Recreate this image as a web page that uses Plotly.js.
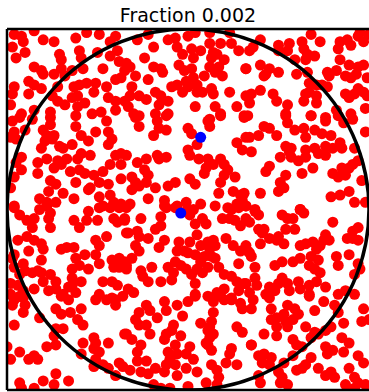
<!DOCTYPE html>
<html>
<head>
<meta charset="utf-8">
<script src="https://cdn.plot.ly/plotly-3.0.1.min.js"></script>
<style>html,body{margin:0;padding:0;background:#fff;}#chart{width:369px;height:392px;}</style>
</head>
<body>
<div id="chart"></div>
<script>
// Title
const titleText = "Fraction 0.002";

// Red points (inside and outside the unit circle), read region by region
const redTopLeft = [[-0.96,0.97],[-0.92,0.96],[-0.97,0.90],[-0.91,0.93],[-0.85,0.99],[-0.80,0.94],[-0.74,0.93],[-0.62,0.95],[-0.56,0.98],[-0.49,0.97],[-0.43,0.93],[-0.40,0.96],[-0.60,0.88],[-0.59,0.84],[-0.50,0.87],[-0.90,0.87],[-0.95,0.84],[-0.71,0.86],[-0.70,0.83],[-0.43,0.85],[-0.39,0.88],[-0.85,0.79],[-0.81,0.77],[-0.80,0.75],[-0.70,0.78],[-0.74,0.75],[-0.68,0.74],[-0.64,0.77],[-0.58,0.78],[-0.47,0.78],[-0.38,0.82],[-0.35,0.77],[-0.88,0.71],[-0.85,0.69],[-0.81,0.67],[-0.96,0.68],[-0.97,0.64],[-0.72,0.68],[-0.63,0.68],[-0.60,0.69],[-0.56,0.70],[-0.51,0.70],[-0.45,0.68],[-0.40,0.72],[-0.37,0.73],[-0.88,0.64],[-0.75,0.63],[-0.72,0.60],[-0.68,0.58],[-0.64,0.62],[-0.61,0.63],[-0.52,0.65],[-0.44,0.62],[-0.40,0.60],[-0.35,0.60],[-0.98,0.58],[-0.85,0.55],[-0.76,0.54],[-0.57,0.59],[-0.61,0.57],[-0.92,0.53],[-0.53,0.53],[-0.48,0.54],[-0.40,0.55]];
const redTopMid = [[-0.28,0.94],[-0.22,0.97],[-0.11,0.94],[-0.07,0.95],[-0.06,0.90],[0.00,0.96],[0.04,0.98],[0.12,0.98],[0.12,0.92],[0.18,0.92],[0.23,0.98],[0.24,0.92],[0.28,0.88],[0.34,0.88],[-0.19,0.90],[0.02,0.89],[0.07,0.88],[0.14,0.87],[-0.24,0.84],[-0.03,0.86],[0.03,0.84],[0.13,0.84],[0.20,0.83],[0.16,0.86],[-0.34,0.81],[-0.32,0.79],[-0.19,0.79],[-0.15,0.78],[-0.05,0.80],[-0.02,0.77],[0.02,0.78],[0.12,0.79],[0.17,0.79],[0.15,0.76],[0.19,0.74],[0.32,0.78],[-0.29,0.74],[-0.22,0.72],[-0.14,0.76],[0.03,0.73],[-0.01,0.71],[0.09,0.74],[-0.31,0.68],[-0.09,0.68],[-0.06,0.69],[0.00,0.68],[0.05,0.69],[0.05,0.65],[0.08,0.65],[0.13,0.67],[0.14,0.64],[0.23,0.65],[0.32,0.63],[-0.32,0.63],[-0.27,0.63],[-0.23,0.61],[-0.18,0.65],[-0.15,0.63],[-0.11,0.60],[-0.16,0.58],[-0.33,0.57],[-0.03,0.65],[0.04,0.57],[0.15,0.57],[0.18,0.53],[0.27,0.57],[0.34,0.59],[-0.30,0.53],[-0.27,0.52],[-0.18,0.53],[-0.11,0.53],[0.12,0.50],[0.31,0.52]];
const redTopRight = [[0.36,0.90],[0.40,0.94],[0.50,0.91],[0.50,0.88],[0.56,0.92],[0.55,0.88],[0.63,0.93],[0.64,0.89],[0.68,0.97],[0.73,0.93],[0.66,0.86],[0.70,0.85],[0.65,0.83],[0.84,0.93],[0.83,0.89],[0.88,0.94],[0.90,0.91],[0.94,0.96],[0.97,0.93],[0.95,0.98],[1.00,0.97],[0.40,0.80],[0.45,0.78],[0.43,0.75],[0.50,0.76],[0.42,0.74],[0.32,0.78],[0.59,0.83],[0.60,0.75],[0.66,0.76],[0.77,0.76],[0.78,0.74],[0.82,0.77],[0.84,0.83],[0.89,0.80],[0.94,0.79],[0.97,0.80],[0.99,0.73],[0.87,0.74],[0.90,0.73],[0.93,0.75],[0.40,0.66],[0.35,0.64],[0.47,0.64],[0.49,0.60],[0.55,0.58],[0.67,0.70],[0.71,0.69],[0.74,0.69],[0.67,0.65],[0.65,0.64],[0.71,0.63],[0.71,0.59],[0.77,0.68],[0.87,0.64],[0.89,0.62],[0.94,0.67],[0.92,0.64],[0.97,0.65],[0.99,0.63],[0.64,0.60],[0.54,0.53],[0.68,0.52],[0.76,0.51],[0.82,0.55],[0.90,0.53],[0.98,0.56],[0.33,0.52]];
const redUpperLeft = [[-0.97,0.49],[-0.93,0.51],[-0.86,0.50],[-0.76,0.51],[-0.76,0.47],[-0.96,0.43],[-0.90,0.44],[-0.98,0.40],[-0.95,0.39],[-0.80,0.44],[-0.78,0.41],[-0.74,0.41],[-0.79,0.38],[-0.75,0.39],[-0.62,0.52],[-0.62,0.46],[-0.59,0.41],[-0.55,0.38],[-0.51,0.43],[-0.45,0.49],[-0.44,0.43],[-0.42,0.39],[-0.44,0.36],[-0.81,0.34],[-0.71,0.35],[-0.69,0.34],[-0.64,0.36],[-0.59,0.31],[-0.92,0.29],[-0.83,0.26],[-0.78,0.28],[-0.72,0.27],[-0.67,0.28],[-0.61,0.28],[-0.54,0.30],[-0.40,0.30],[-0.37,0.31],[-0.95,0.26],[-0.43,0.25],[-0.92,0.22],[-0.83,0.20],[-0.74,0.23],[-0.70,0.25],[-0.65,0.21],[-0.60,0.22],[-0.57,0.20],[-0.52,0.19],[-0.47,0.21],[-0.37,0.25],[-0.96,0.18],[-0.76,0.16],[-0.73,0.14],[-0.62,0.15],[-0.54,0.12],[-0.49,0.15],[-0.44,0.14],[-0.37,0.17],[-0.98,0.12],[-0.77,0.10],[-0.69,0.09],[-0.63,0.06],[-0.55,0.11],[-0.49,0.07],[-0.43,0.08],[-0.41,0.04],[-0.82,0.06],[-0.78,0.04],[-0.73,0.04],[-0.96,0.02],[-0.47,0.02],[-0.37,0.03]];
const redUpperMid = [[-0.29,0.51],[-0.27,0.46],[-0.17,0.49],[-0.16,0.45],[-0.12,0.52],[-0.12,0.44],[0.00,0.45],[0.02,0.42],[0.11,0.49],[0.12,0.46],[0.18,0.52],[0.31,0.51],[-0.19,0.41],[0.05,0.36],[0.27,0.37],[0.30,0.33],[0.32,0.40],[0.35,0.32],[-0.34,0.30],[-0.28,0.26],[-0.23,0.28],[-0.17,0.30],[-0.16,0.28],[-0.12,0.29],[0.00,0.33],[0.01,0.30],[0.06,0.28],[0.11,0.28],[0.14,0.25],[0.18,0.28],[0.20,0.25],[0.10,0.23],[0.09,0.20],[0.22,0.22],[0.20,0.19],[-0.24,0.22],[-0.22,0.19],[-0.31,0.18],[-0.29,0.15],[-0.31,0.11],[-0.27,0.13],[-0.23,0.15],[-0.18,0.12],[-0.22,0.06],[-0.11,0.13],[-0.07,0.15],[0.01,0.17],[0.04,0.14],[0.26,0.18],[0.18,0.15],[0.17,0.09],[0.25,0.10],[0.29,0.08],[0.30,0.05],[0.27,0.03],[-0.32,0.03],[-0.13,0.05],[-0.12,0.01],[-0.06,0.02],[-0.01,0.04],[0.07,0.03],[0.15,0.02],[0.22,0.01]];
const redUpperRight = [[0.54,0.52],[0.68,0.52],[0.76,0.49],[0.83,0.52],[0.86,0.48],[0.91,0.50],[0.98,0.43],[0.34,0.40],[0.39,0.41],[0.42,0.46],[0.45,0.45],[0.49,0.41],[0.55,0.48],[0.59,0.44],[0.64,0.45],[0.70,0.44],[0.74,0.42],[0.65,0.40],[0.79,0.41],[0.54,0.35],[0.57,0.34],[0.56,0.32],[0.51,0.29],[0.57,0.29],[0.61,0.27],[0.65,0.33],[0.70,0.34],[0.72,0.31],[0.76,0.35],[0.76,0.30],[0.80,0.34],[0.84,0.37],[0.85,0.34],[0.92,0.34],[0.65,0.29],[0.69,0.23],[0.63,0.20],[0.54,0.19],[0.51,0.15],[0.45,0.24],[0.43,0.21],[0.94,0.27],[0.80,0.20],[0.85,0.23],[0.83,0.18],[0.87,0.19],[0.89,0.23],[0.91,0.25],[0.96,0.16],[0.53,0.12],[0.50,0.10],[0.40,0.09],[0.31,0.09],[0.79,0.07],[0.84,0.08],[0.89,0.10],[0.92,0.04],[0.98,0.04],[0.32,0.02],[0.37,0.00],[0.62,0.00]];
const redLowerLeft = [[-0.96,0.01],[-0.93,-0.03],[-0.89,-0.06],[-0.85,-0.05],[-0.86,-0.10],[-0.82,0.00],[-0.78,0.02],[-0.76,-0.02],[-0.77,-0.05],[-0.76,-0.10],[-0.63,-0.06],[-0.60,-0.10],[-0.56,-0.06],[-0.55,-0.01],[-0.50,-0.06],[-0.49,0.01],[-0.43,0.01],[-0.41,-0.05],[-0.39,-0.07],[-0.38,0.01],[-0.35,-0.06],[-0.34,-0.13],[-0.94,-0.17],[-0.89,-0.15],[-0.85,-0.17],[-0.81,-0.19],[-0.80,-0.22],[-0.88,-0.23],[-0.96,-0.25],[-0.97,-0.27],[-0.70,-0.22],[-0.67,-0.21],[-0.63,-0.21],[-0.62,-0.27],[-0.57,-0.25],[-0.51,-0.17],[-0.49,-0.20],[-0.51,-0.25],[-0.45,-0.15],[-0.42,-0.28],[-0.38,-0.27],[-0.35,-0.29],[-0.81,-0.28],[-0.91,-0.30],[-0.96,-0.32],[-0.90,-0.34],[-0.86,-0.35],[-0.83,-0.34],[-0.81,-0.35],[-0.93,-0.36],[-0.64,-0.33],[-0.60,-0.31],[-0.55,-0.33],[-0.49,-0.30],[-0.41,-0.32],[-0.38,-0.32],[-0.34,-0.33],[-0.76,-0.36],[-0.80,-0.40],[-0.73,-0.40],[-0.64,-0.38],[-0.59,-0.40],[-0.64,-0.42],[-0.98,-0.41],[-0.94,-0.42],[-0.91,-0.45],[-0.85,-0.44],[-0.77,-0.45],[-0.73,-0.44],[-0.69,-0.47],[-0.66,-0.43],[-0.62,-0.46],[-0.47,-0.40],[-0.42,-0.40],[-0.39,-0.42],[-0.49,-0.47],[-0.42,-0.49],[-0.36,-0.48],[-0.98,-0.47],[-0.93,-0.48]];
const redLowerMid = [[-0.34,0.01],[-0.35,-0.05],[-0.26,-0.05],[-0.15,-0.04],[-0.13,0.02],[-0.07,0.01],[-0.01,-0.01],[0.03,0.00],[0.01,-0.03],[0.08,-0.05],[0.04,-0.08],[0.10,-0.08],[0.19,-0.05],[0.24,0.00],[0.28,0.01],[0.23,-0.05],[0.26,-0.06],[0.29,-0.09],[0.32,0.02],[-0.33,-0.13],[-0.28,-0.12],[-0.27,-0.15],[-0.22,-0.16],[-0.18,-0.11],[-0.15,-0.09],[-0.13,-0.17],[-0.16,-0.21],[-0.29,-0.20],[-0.27,-0.23],[-0.31,-0.27],[0.05,-0.14],[0.01,-0.18],[0.07,-0.20],[0.11,-0.18],[0.14,-0.17],[0.15,-0.20],[0.12,-0.22],[-0.05,-0.18],[-0.06,-0.23],[-0.02,-0.23],[0.00,-0.24],[0.04,-0.25],[0.07,-0.29],[0.09,-0.26],[0.13,-0.26],[0.15,-0.27],[0.21,-0.16],[0.25,-0.20],[0.29,-0.23],[0.32,-0.20],[0.34,-0.24],[0.28,-0.30],[-0.34,-0.31],[-0.26,-0.34],[-0.25,-0.37],[-0.22,-0.40],[-0.20,-0.32],[-0.11,-0.32],[-0.07,-0.29],[-0.04,-0.31],[-0.01,-0.33],[-0.08,-0.35],[0.02,-0.36],[0.05,-0.33],[0.08,-0.35],[0.11,-0.32],[0.17,-0.32],[-0.15,-0.40],[-0.09,-0.39],[0.04,-0.41],[0.20,-0.36],[0.24,-0.37],[0.27,-0.40],[0.32,-0.41],[-0.33,-0.44],[-0.30,-0.46],[0.04,-0.47],[0.11,-0.48],[0.16,-0.46],[0.20,-0.44],[0.24,-0.49],[0.28,-0.45],[0.34,-0.46]];
const redLowerRight = [[0.32,-0.05],[0.37,-0.01],[0.39,-0.03],[0.34,-0.07],[0.39,-0.11],[0.42,-0.11],[0.41,-0.13],[0.52,-0.03],[0.55,-0.05],[0.58,-0.05],[0.62,0.00],[0.64,-0.02],[0.54,-0.11],[0.59,-0.11],[0.50,-0.15],[0.45,-0.16],[0.49,-0.17],[0.53,-0.19],[0.40,-0.19],[0.33,-0.23],[0.35,-0.26],[0.62,-0.20],[0.65,-0.19],[0.69,-0.18],[0.71,-0.22],[0.73,-0.20],[0.75,-0.17],[0.76,-0.14],[0.78,-0.17],[0.80,-0.07],[0.91,-0.12],[0.94,-0.10],[0.88,-0.16],[0.91,-0.16],[0.94,-0.17],[0.62,-0.27],[0.58,-0.29],[0.48,-0.31],[0.52,-0.29],[0.37,-0.32],[0.68,-0.26],[0.72,-0.28],[0.67,-0.31],[0.70,-0.33],[0.73,-0.35],[0.82,-0.26],[0.83,-0.31],[0.89,-0.25],[0.94,-0.30],[0.95,-0.33],[0.92,-0.36],[0.37,-0.38],[0.38,-0.42],[0.45,-0.43],[0.50,-0.41],[0.52,-0.38],[0.55,-0.41],[0.56,-0.45],[0.61,-0.40],[0.62,-0.44],[0.67,-0.42],[0.71,-0.40],[0.76,-0.43],[0.31,-0.41],[0.43,-0.47],[0.48,-0.45],[0.67,-0.47],[0.83,-0.47],[0.87,-0.45],[0.92,-0.47]];
const redBottomLeft = [[-0.97,-0.53],[-0.96,-0.50],[-0.91,-0.49],[-0.90,-0.53],[-0.91,-0.57],[-0.70,-0.48],[-0.66,-0.50],[-0.73,-0.55],[-0.70,-0.58],[-0.65,-0.57],[-0.61,-0.61],[-0.59,-0.55],[-0.58,-0.64],[-0.51,-0.50],[-0.45,-0.50],[-0.40,-0.50],[-0.40,-0.53],[-0.96,-0.64],[-0.82,-0.60],[-0.73,-0.66],[-0.69,-0.66],[-0.74,-0.70],[-0.52,-0.71],[-0.51,-0.74],[-0.44,-0.74],[-0.58,-0.74],[-1.00,-0.76],[-0.93,-0.79],[-0.88,-0.83],[-0.85,-0.81],[-0.83,-0.83],[-0.78,-0.76],[-0.73,-0.75],[-0.98,-0.83],[-0.59,-0.80],[-0.52,-0.77],[-0.49,-0.79],[-0.51,-0.83],[-0.52,-0.87],[-0.47,-0.86],[-0.44,-0.88],[-0.38,-0.85],[-0.36,-0.87],[-0.35,-0.69],[-0.73,-0.91],[-0.80,-0.95],[-0.74,-0.97],[-0.66,-0.95],[-0.93,-0.96],[-0.92,-0.99],[-0.85,-0.99],[-0.40,-0.92]];
const redBottomMid = [[-0.23,-0.53],[-0.13,-0.51],[-0.12,-0.56],[-0.06,-0.53],[-0.03,-0.59],[0.00,-0.51],[0.04,-0.48],[0.14,-0.51],[0.18,-0.48],[0.20,-0.50],[0.24,-0.50],[0.29,-0.52],[0.30,-0.55],[0.14,-0.57],[-0.27,-0.57],[-0.21,-0.56],[-0.29,-0.61],[-0.27,-0.64],[-0.23,-0.64],[-0.17,-0.60],[-0.08,-0.64],[-0.09,-0.67],[0.07,-0.63],[0.13,-0.62],[0.12,-0.65],[0.11,-0.67],[0.14,-0.69],[0.12,-0.71],[0.11,-0.75],[0.13,-0.78],[0.27,-0.65],[0.30,-0.68],[0.35,-0.75],[-0.34,-0.69],[-0.31,-0.72],[-0.21,-0.69],[-0.13,-0.72],[-0.12,-0.69],[-0.04,-0.70],[0.10,-0.74],[-0.28,-0.79],[-0.26,-0.75],[-0.28,-0.84],[-0.23,-0.84],[-0.11,-0.79],[-0.10,-0.83],[-0.06,-0.80],[-0.07,-0.75],[-0.01,-0.80],[0.01,-0.76],[0.03,-0.83],[0.24,-0.77],[0.23,-0.80],[0.21,-0.85],[0.27,-0.86],[-0.32,-0.89],[-0.26,-0.90],[-0.22,-0.91],[-0.18,-0.88],[-0.13,-0.90],[-0.12,-0.86],[-0.07,-0.86],[-0.01,-0.88],[0.05,-0.90],[0.13,-0.86],[0.16,-0.89],[0.17,-0.93],[-0.06,-0.92],[0.00,-0.98],[-0.19,-0.97],[-0.15,-0.99],[-0.10,-0.99],[0.10,-0.96],[0.16,-0.97]];
const redBottomRight = [[0.36,-0.50],[0.35,-0.55],[0.45,-0.49],[0.46,-0.55],[0.55,-0.53],[0.59,-0.55],[0.61,-0.58],[0.67,-0.48],[0.70,-0.56],[0.75,-0.51],[0.81,-0.53],[0.83,-0.57],[0.97,-0.55],[1.00,-0.61],[0.96,-0.62],[0.46,-0.61],[0.49,-0.60],[0.53,-0.58],[0.54,-0.62],[0.49,-0.65],[0.55,-0.65],[0.58,-0.61],[0.65,-0.65],[0.70,-0.68],[0.76,-0.67],[0.79,-0.65],[0.86,-0.63],[0.42,-0.69],[0.49,-0.70],[0.58,-0.72],[0.60,-0.75],[0.63,-0.76],[0.68,-0.71],[0.72,-0.69],[0.35,-0.75],[0.85,-0.71],[0.89,-0.74],[0.76,-0.76],[0.77,-0.80],[0.80,-0.78],[0.86,-0.79],[0.39,-0.81],[0.42,-0.80],[0.46,-0.82],[0.41,-0.85],[0.45,-0.86],[0.53,-0.85],[0.58,-0.81],[0.68,-0.82],[0.65,-0.86],[0.94,-0.81],[0.97,-0.85],[0.39,-0.92],[0.40,-0.96],[0.50,-0.90],[0.52,-0.93],[0.51,-0.96],[0.55,-0.97],[0.60,-0.89],[0.63,-0.88],[0.72,-0.88],[0.76,-0.92],[0.79,-0.90],[0.81,-0.93],[0.89,-0.88],[0.92,-0.93],[0.87,-0.97],[0.92,-0.99],[0.94,-0.96],[0.98,-0.97]];

// Blue points
const bluePoints = [[0.07,0.40],[-0.04,-0.02]];

const redPoints = [].concat(redTopLeft, redTopMid, redTopRight, redUpperLeft, redUpperMid, redUpperRight,
  redLowerLeft, redLowerMid, redLowerRight, redBottomLeft, redBottomMid, redBottomRight);

const traces = [
  {type:'scatter', mode:'markers', x: redPoints.map(p=>p[0]), y: redPoints.map(p=>p[1]),
   marker:{color:'#ff0000', size:11, line:{width:0}}, hoverinfo:'skip', cliponaxis:true},
  {type:'scatter', mode:'markers', x: bluePoints.map(p=>p[0]), y: bluePoints.map(p=>p[1]),
   marker:{color:'#0000ff', size:11, line:{width:0}}, hoverinfo:'skip', cliponaxis:true}
];

const axisBase = {range:[-1,1], showgrid:false, zeroline:false, showticklabels:false, ticks:'', showline:false, fixedrange:true};

const layout = {
  width:369, height:392,
  margin:{l:7, r:0, t:29, b:2, pad:0},
  paper_bgcolor:'#ffffff', plot_bgcolor:'#ffffff',
  showlegend:false,
  title:{text:titleText, font:{family:'DejaVu Sans', size:19, color:'#000'}, xref:'paper', x:0.5, xanchor:'center', yref:'container', y:0.96, yanchor:'middle'},
  xaxis:Object.assign({}, axisBase),
  yaxis:Object.assign({}, axisBase),
  shapes:[
    {type:'circle', xref:'x', yref:'y', x0:-1, y0:-1, x1:1, y1:1, line:{color:'#000', width:3.5}, layer:'above'},
    {type:'line', xref:'paper', yref:'paper', x0:0, y0:0, x1:0, y1:1, line:{color:'#000', width:2.5}, layer:'above'},
    {type:'line', xref:'paper', yref:'paper', x0:0, y0:1, x1:1.02, y1:1, line:{color:'#000', width:2.5}, layer:'above'},
    {type:'line', xref:'paper', yref:'paper', x0:0, y0:0, x1:1.02, y1:0, line:{color:'#000', width:2.5}, layer:'above'}
  ]
};

Plotly.newPlot('chart', traces, layout, {staticPlot:true, displayModeBar:false});
</script>
</body>
</html>
